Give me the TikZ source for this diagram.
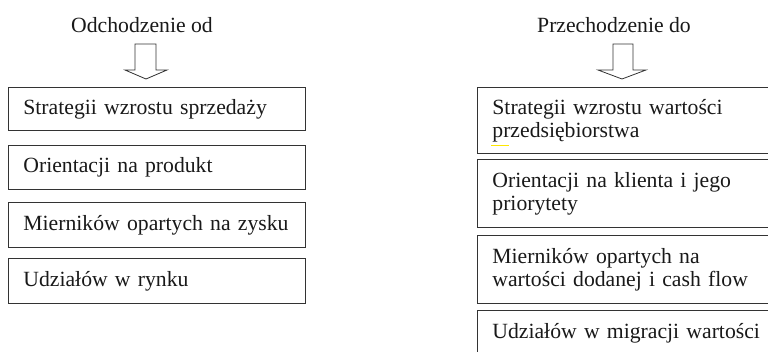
\documentclass[tikz,border=0pt]{standalone}
\usepackage{fontspec}
\setmainfont{Liberation Serif}
\begin{document}
\begin{tikzpicture}[x=1bp,y=-1bp,
  every node/.style={font=\fontsize{21.7bp}{23bp}\selectfont, text=black!90},
  lbox/.style={draw=black!80, line width=0.8bp, anchor=north west, inner xsep=15.5bp, inner ysep=0bp,
    minimum width=297.5bp, text width=266.5bp, align=left},
  rbox/.style={draw=black!80, line width=0.8bp, anchor=north west, inner xsep=15.5bp, inner ysep=0bp,
    minimum width=330bp, text width=299bp, align=left},
  blockarrow/.style={draw=black!80, line width=0.8bp, fill=white}]
\useasboundingbox (0,0) rectangle (768,351);
\clip (0,0) rectangle (768,351);
% titles
\node (tl) at (142,25.5) {Odchodzenie od};
\node (tr) at (614,25.5) {Przechodzenie do};
% block arrows
\draw[blockarrow] (135,44) -- (156,44) -- (156,70) -- (167,70) -- (146,79) -- (125,70) -- (135,70) -- cycle;
\draw[blockarrow] (613,44) -- (633,44) -- (633,70) -- (646,70) -- (622,79) -- (598,70) -- (613,70) -- cycle;
% left column
\node[lbox, minimum height=43bp] (l1) at (7.5,87) {Strategii wzrostu sprzedaży};
\node[lbox, minimum height=44bp] (l2) at (7.5,145) {Orientacji na produkt};
\node[lbox, minimum height=45bp] (l3) at (7.5,202) {Mierników opartych na zysku};
\node[lbox, minimum height=45bp] (l4) at (7.5,258) {Udziałów w rynku};
% right column
\node[rbox, minimum height=66bp] (r1) at (476.5,87) {Strategii wzrostu wartości\\przedsiębiorstwa};
\node[rbox, minimum height=68bp] (r2) at (476.5,159) {Orientacji na klienta i jego\\priorytety};
\node[rbox, minimum height=68bp] (r3) at (476.5,235) {Mierników opartych na\\wartości dodanej i cash flow};
\node[rbox, minimum height=46bp] (r4) at (476.5,310) {Udziałów w migracji wartości};
% spell-check mark
\draw[yellow!90!orange, line width=1bp] (491,145) -- (509,145);
\end{tikzpicture}
\end{document}
